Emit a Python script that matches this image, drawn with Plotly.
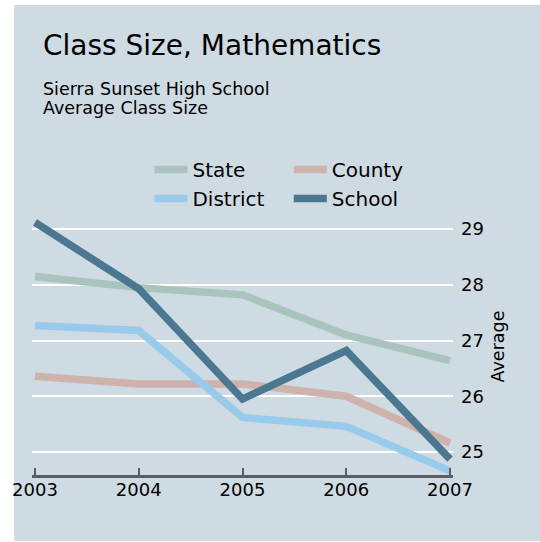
import plotly.graph_objects as go

years = [2003, 2004, 2005, 2006, 2007]
state = [28.15, 27.95, 27.82, 27.10, 26.64]
county = [26.36, 26.22, 26.22, 26.00, 25.16]
district = [27.27, 27.18, 25.62, 25.46, 24.66]
school = [29.12, 27.93, 25.95, 26.82, 24.87]

series_names = ["State", "County", "District", "School"]
series_colors = ["#a9c3bd", "#ceb2ac", "#98cbeb", "#4b7790"]
series_legend = ["legend", "legend2", "legend", "legend2"]
series_values = [state, county, district, school]

y_ticks = [25, 26, 27, 28, 29]
x_ticks = years

BG = "#cfdbe3"
FONT = "DejaVu Sans"

fig = go.Figure()
for name, vals, col, lg in zip(series_names, series_values, series_colors, series_legend):
    fig.add_trace(go.Scatter(
        x=years, y=vals, mode="lines", name=name,
        line=dict(color=col, width=7.5),
        legend=lg,
    ))

W, H = 540, 542
ml, mr, mt, mb = 30, 87, 218, 67
pw = W - ml - mr
ph = H - mt - mb

def px_x(p):
    return (p - ml) / pw

def px_y(p):
    return (H - mb - p) / ph

leg_common = dict(yanchor="top", xanchor="left", bgcolor="rgba(0,0,0,0)",
                  font=dict(size=20, family=FONT), tracegroupgap=0, itemwidth=33)

fig.update_layout(
    width=W, height=H,
    margin=dict(l=ml, r=mr, t=mt, b=mb, pad=0),
    paper_bgcolor="white",
    plot_bgcolor="rgba(0,0,0,0)",
    font=dict(family=FONT, color="black"),
    showlegend=True,
    shapes=[dict(type="rect", xref="paper", yref="paper", layer="below",
                 x0=px_x(12), x1=px_x(541), y0=px_y(541), y1=px_y(5),
                 fillcolor=BG, line=dict(width=0))],
    legend=dict(x=px_x(148), y=px_y(150), **leg_common),
    legend2=dict(x=px_x(288), y=px_y(150), **leg_common),
    xaxis=dict(range=[2003 - 3/104.25, 2007 + 3/104.25], tickvals=x_ticks,
               ticktext=[str(v) for v in x_ticks],
               showgrid=False, zeroline=False, showline=True,
               linecolor="#5a5e63", linewidth=2.5,
               ticks="inside", ticklen=7, tickwidth=1.5, tickcolor="#5a5e63",
               tickfont=dict(size=18, family=FONT), ticklabelstandoff=-3,
               fixedrange=True),
    yaxis=dict(range=[24.586, 29.2], side="right", tickvals=y_ticks,
               showgrid=True, gridcolor="white", gridwidth=1.5,
               zeroline=False, showline=False, ticks="",
               tickfont=dict(size=18, family=FONT), ticklabelstandoff=7,
               title=dict(text="Average", font=dict(size=17.5, family=FONT), standoff=8)),
    annotations=[
        dict(text="Class Size, Mathematics", xref="paper", yref="paper",
             x=px_x(39), y=px_y(46), xanchor="left", yanchor="middle",
             showarrow=False, font=dict(size=28, family=FONT)),
        dict(text="Sierra Sunset High School", xref="paper", yref="paper",
             x=px_x(39), y=px_y(89), xanchor="left", yanchor="middle", align="left",
             showarrow=False, font=dict(size=17.5, family=FONT)),
        dict(text="Average Class Size", xref="paper", yref="paper",
             x=px_x(39), y=px_y(107.5), xanchor="left", yanchor="middle", align="left",
             showarrow=False, font=dict(size=17.5, family=FONT)),
    ],
)

fig.write_html("out.html", config={"displayModeBar": False},
               post_script="document.body.style.margin='0';document.body.style.overflow='hidden';")
